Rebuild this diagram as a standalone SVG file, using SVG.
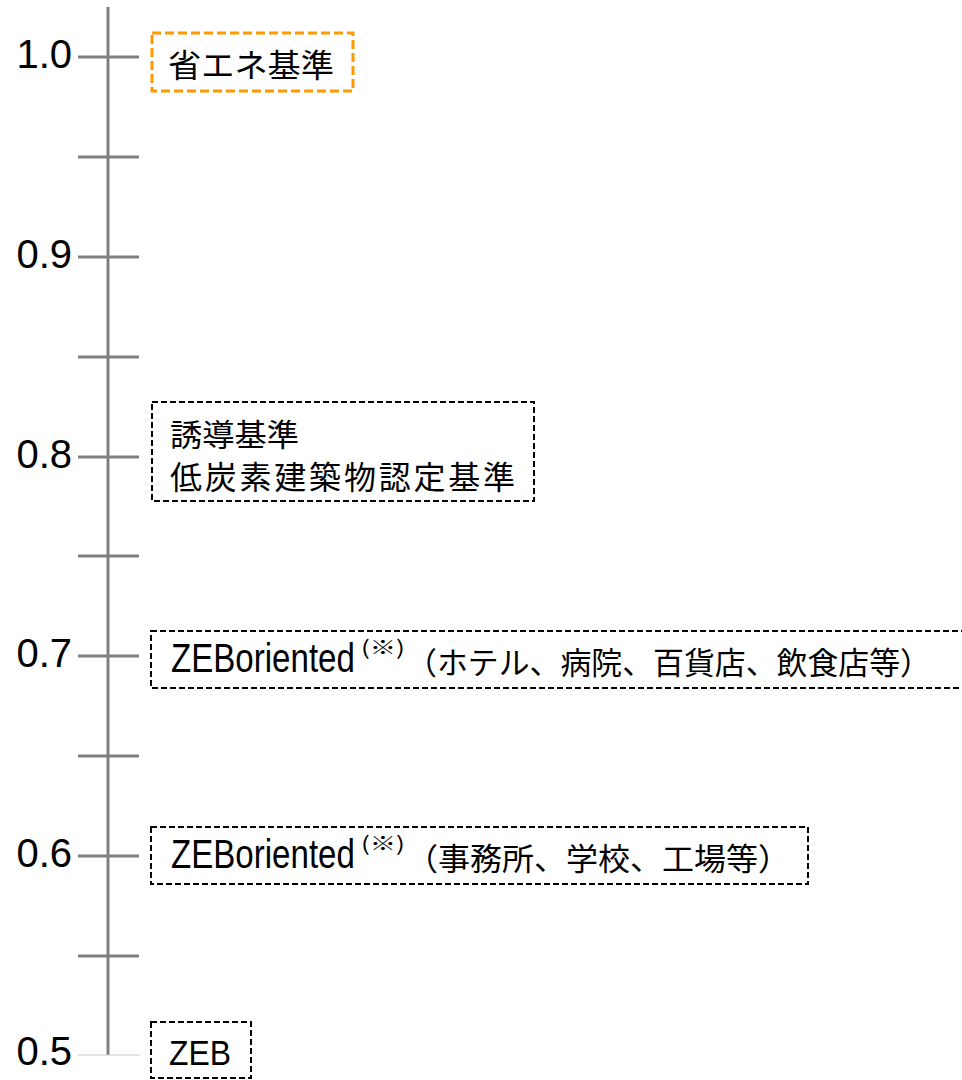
<svg xmlns="http://www.w3.org/2000/svg" width="962" height="1080" viewBox="0 0 962 1080">
<style>
.ax{stroke:#808080;stroke-width:3;fill:none}
.lbl{font-family:"Liberation Sans","Noto Sans CJK JP",sans-serif;font-size:40px;fill:#000;text-anchor:end}
.box{fill:#fff;stroke:#000;stroke-width:2;stroke-dasharray:6 3}
.obox{fill:#fff;stroke:#FF9900;stroke-width:3;stroke-dasharray:9 4}
.t{font-family:"Liberation Sans","Noto Sans CJK JP",sans-serif;fill:#000}
.jp{font-family:"Noto Sans CJK JP",sans-serif;fill:#000}
</style>
<rect width="962" height="1080" fill="#fff"/>
<g id="connectors">
<line class="ax" x1="108" y1="7" x2="108" y2="1055"/>
<line class="ax" x1="78" y1="57" x2="139" y2="57"/>
<line class="ax" x1="78" y1="157" x2="139" y2="157"/>
<line class="ax" x1="78" y1="257" x2="139" y2="257"/>
<line class="ax" x1="78" y1="357" x2="139" y2="357"/>
<line class="ax" x1="78" y1="457" x2="139" y2="457"/>
<line class="ax" x1="78" y1="556" x2="139" y2="556"/>
<line class="ax" x1="78" y1="656" x2="139" y2="656"/>
<line class="ax" x1="78" y1="756" x2="139" y2="756"/>
<line class="ax" x1="78" y1="856" x2="139" y2="856"/>
<line class="ax" x1="78" y1="956" x2="139" y2="956"/>
<line x1="78" y1="1055" x2="140" y2="1055" stroke="#c8c8c8" stroke-width="1"/>
</g>
<g id="axis-labels">
<text class="lbl" x="72" y="68">1.0</text>
<text class="lbl" x="72" y="268">0.9</text>
<text class="lbl" x="72" y="468">0.8</text>
<text class="lbl" x="72" y="667">0.7</text>
<text class="lbl" x="72" y="867">0.6</text>
<text class="lbl" x="72" y="1065">0.5</text>
</g>
<g id="node-shouene">
<rect class="obox" x="152" y="33" width="201" height="58"/>
<text class="jp" x="168" y="77" font-size="32" textLength="166" lengthAdjust="spacingAndGlyphs">省エネ基準</text>
</g>
<g id="node-yudo">
<rect class="box" x="152" y="402" width="382" height="99"/>
<text class="jp" x="170" y="446" font-size="31" textLength="129" lengthAdjust="spacingAndGlyphs">誘導基準</text>
<text class="jp" x="170" y="489" font-size="32" textLength="345" lengthAdjust="spacing">低炭素建築物認定基準</text>
</g>
<g id="node-zeb-oriented-hotel">
<rect class="box" x="151" y="631" width="830" height="57"/>
<text class="t" transform="translate(171,672) scale(0.807,1)" font-size="41">ZEBoriented</text>
<text class="jp" x="361" y="655" font-size="20" textLength="44" lengthAdjust="spacingAndGlyphs">(※)</text>
<text class="jp" x="406" y="674" font-size="31" textLength="525" lengthAdjust="spacingAndGlyphs">（ホテル、病院、百貨店、飲食店等）</text>
</g>
<g id="node-zeb-oriented-office">
<rect class="box" x="151" y="827" width="657" height="57"/>
<text class="t" transform="translate(171,868) scale(0.807,1)" font-size="41">ZEBoriented</text>
<text class="jp" x="361" y="851" font-size="20" textLength="44" lengthAdjust="spacingAndGlyphs">(※)</text>
<text class="jp" x="406" y="870" font-size="31" textLength="384" lengthAdjust="spacingAndGlyphs">（事務所、学校、工場等）</text>
</g>
<g id="node-zeb">
<rect class="box" x="151" y="1022" width="100" height="56"/>
<text class="t" transform="translate(169,1065) scale(0.91,1)" font-size="35">ZEB</text>
</g>
</svg>
